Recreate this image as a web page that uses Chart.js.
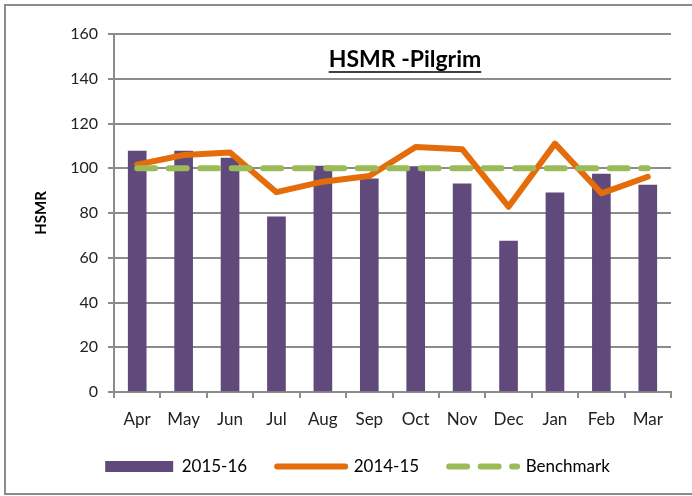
<!DOCTYPE html>
<html>
<head>
<meta charset="utf-8">
<script src="https://cdn.jsdelivr.net/npm/chart.js@4.4.1/dist/chart.umd.min.js"></script>
<style>
  body { margin: 0; background: #fff; }
  #frame {
    position: absolute; left: 4px; top: 4px; width: 700px; height: 487px;
    border: 2px solid #8c8c8c;
  }
  #chart { position: absolute; left: 0; top: 0; }
</style>
</head>
<body>
<div id="frame"></div>
<canvas id="chart" width="692" height="496"></canvas>
<script>
'use strict';

const months = ['Apr', 'May', 'Jun', 'Jul', 'Aug', 'Sep', 'Oct', 'Nov', 'Dec', 'Jan', 'Feb', 'Mar'];
const hsmr1516 = [107.7, 107.7, 104.6, 78.3, 101, 95.3, 100.7, 93, 67.4, 89, 97.4, 92.5];
const hsmr1415 = [101.6, 105.9, 107, 89.3, 94, 96.5, 109.5, 108.5, 82.8, 111, 88.8, 96.2];
const benchmark = [100, 100, 100, 100, 100, 100, 100, 100, 100, 100, 100, 100];
const yTicks = [0, 20, 40, 60, 80, 100, 120, 140, 160];

const FONT = 'Lato, "Liberation Sans", sans-serif';
const GRID = '#8c8c8c';
const BENCH_DASH = [18, 13.5];

// title sits inside the plot area, underlined
const innerTitle = {
  id: 'innerTitle',
  afterDraw(chart) {
    const ctx = chart.ctx;
    const text = 'HSMR -Pilgrim';
    const x = 405;
    const y = 60;
    ctx.save();
    ctx.font = 'bold 23px ' + FONT;
    ctx.fillStyle = '#000';
    ctx.textAlign = 'center';
    ctx.textBaseline = 'middle';
    ctx.fillText(text, x, y);
    const w = ctx.measureText(text).width;
    ctx.strokeStyle = '#000';
    ctx.lineWidth = 1.5;
    ctx.beginPath();
    ctx.moveTo(x - w / 2, y + 12);
    ctx.lineTo(x + w / 2, y + 12);
    ctx.stroke();
    ctx.restore();
  }
};

const ctx = document.getElementById('chart').getContext('2d');
new Chart(ctx, {
  type: 'bar',
  data: {
    labels: months,
    datasets: [{
      label: '2015-16',
      data: hsmr1516,
      backgroundColor: '#604a7b',
      barThickness: 18,
      pointStyle: 'rect',
      order: 3,
    }, {
      type: 'line',
      label: '2014-15',
      data: hsmr1415,
      borderColor: '#e46c0a',
      backgroundColor: '#e46c0a',
      borderWidth: 6,
      borderCapStyle: 'round',
      borderJoinStyle: 'round',
      pointRadius: 0,
      tension: 0,
      pointStyle: 'line',
      order: 2,
    }, {
      type: 'line',
      label: 'Benchmark',
      data: benchmark,
      borderColor: '#9bbb59',
      backgroundColor: '#9bbb59',
      borderWidth: 6,
      borderDash: BENCH_DASH,
      borderCapStyle: 'round',
      pointRadius: 0,
      tension: 0,
      pointStyle: 'line',
      order: 1,
    }],
  },
  options: {
    responsive: false,
    animation: false,
    layout: {
      padding: { left: 44, right: 21, top: 34, bottom: 11 },
    },
    scales: {
      x: {
        afterFit: function (scale) { scale.height = 36; },
        grid: {
          drawOnChartArea: false,
          offset: true,
          tickLength: 6,
          color: GRID,
          lineWidth: 2,
        },
        border: { color: GRID, width: 2 },
        ticks: {
          color: '#222',
          padding: 11,
          font: { family: FONT, size: 17 },
        },
      },
      y: {
        min: 0,
        max: 160,
        afterFit: function (scale) { scale.width = 70; },
        afterBuildTicks: function (scale) {
          scale.ticks = yTicks.map(function (v) { return { value: v }; });
        },
        grid: {
          color: GRID,
          lineWidth: 2,
          tickLength: 6,
        },
        border: { color: GRID, width: 2 },
        ticks: {
          color: '#222',
          padding: 10,
          font: { family: FONT, size: 16 },
        },
        title: {
          display: true,
          text: 'HSMR',
          color: '#000',
          padding: { top: -12, bottom: 0 },
          font: { family: FONT, size: 15, weight: 'bold' },
        },
      },
    },
    plugins: {
      title: { display: false },
      tooltip: { enabled: false },
      legend: {
        position: 'bottom',
        labels: {
          usePointStyle: true,
          pointStyleWidth: 68,
          boxHeight: 11,
          padding: 30,
          color: '#000',
          font: { family: FONT, size: 17 },
          sort: function (a, b) { return a.datasetIndex - b.datasetIndex; },
          generateLabels: function (chart) {
            const items = Chart.defaults.plugins.legend.labels.generateLabels(chart);
            items.forEach(function (item) {
              if (item.datasetIndex > 0) {
                item.lineWidth = 6;
                item.lineCap = 'round';
              }
              if (item.datasetIndex === 2) {
                item.lineDash = BENCH_DASH;
              }
            });
            return items;
          },
        },
      },
    },
  },
  plugins: [innerTitle],
});
</script>
</body>
</html>
